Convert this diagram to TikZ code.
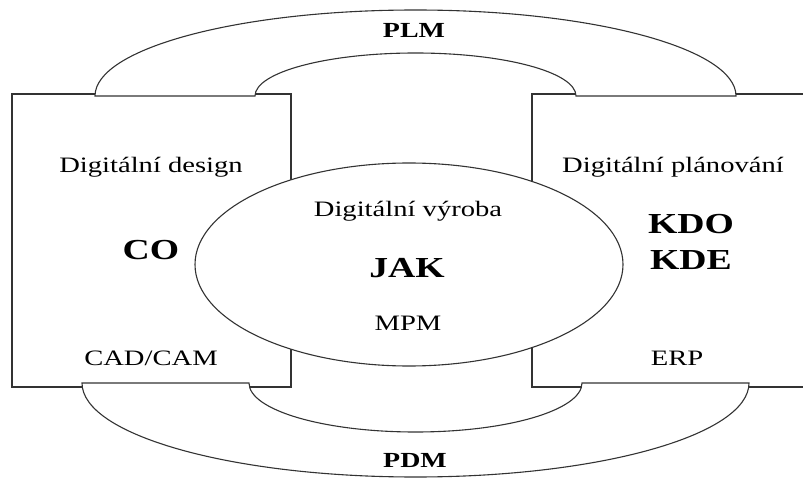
\documentclass[tikz,border=0pt]{standalone}
\usepackage{fontspec}
\setmainfont[FakeStretch=1.3]{Liberation Serif}
\usetikzlibrary{positioning}

\begin{document}
\begin{tikzpicture}[x=1pt,y=1pt,
    every node/.style={anchor=base,inner sep=0pt,font=\fontsize{22}{24}\selectfont},
    big/.style={font=\fontsize{29}{32}\selectfont\bfseries},
    band/.style={font=\fontsize{21.5}{24}\selectfont\bfseries},
    line/.style={draw=black!80,line width=1.1pt}]
  \useasboundingbox (0,0) rectangle (803,480);

  % boxes
  \draw[line] (12,93) rectangle (291,386);
  \draw[line] (803,386) -- (532,386) -- (532,93) -- (803,93);

  % PLM band over the top
  \filldraw[line,fill=white] (95,384)
    arc[start angle=180,end angle=0,x radius=320.5,y radius=86] -- (576,384)
    arc[start angle=0,end angle=180,x radius=160.5,y radius=43] -- cycle;

  % PDM band under the bottom
  \filldraw[line,fill=white] (82,97)
    arc[start angle=180,end angle=360,x radius=333.5,y radius=94] -- (582,97)
    arc[start angle=360,end angle=180,x radius=166.5,y radius=49] -- cycle;

  % digital manufacturing
  \filldraw[line,fill=white] (409,215.5) ellipse[x radius=214,y radius=101.5];

  \node (plm) at (414,442) [band] {PLM};
  \node (pdm) at (415,13) [band] {PDM};

  % left box
  \node (design) at (151,307) {Digitální design};
  \node (co) at (151,221) [big] {CO};
  \node (cadcam) at (151,115) {CAD/CAM};

  % ellipse
  \node (vyroba) at (408,263) {Digitální výroba};
  \node (jak) at (407,203) [big] {JAK};
  \node (mpm) at (408,150) {MPM};

  % right box
  \node (planovani) at (673,307) {Digitální plánování};
  \node (kdo) at (691,247) [big] {KDO};
  \node (kde) at (691,211) [big] {KDE};
  \node (erp) at (677,115) {ERP};

\end{tikzpicture}
\end{document}
